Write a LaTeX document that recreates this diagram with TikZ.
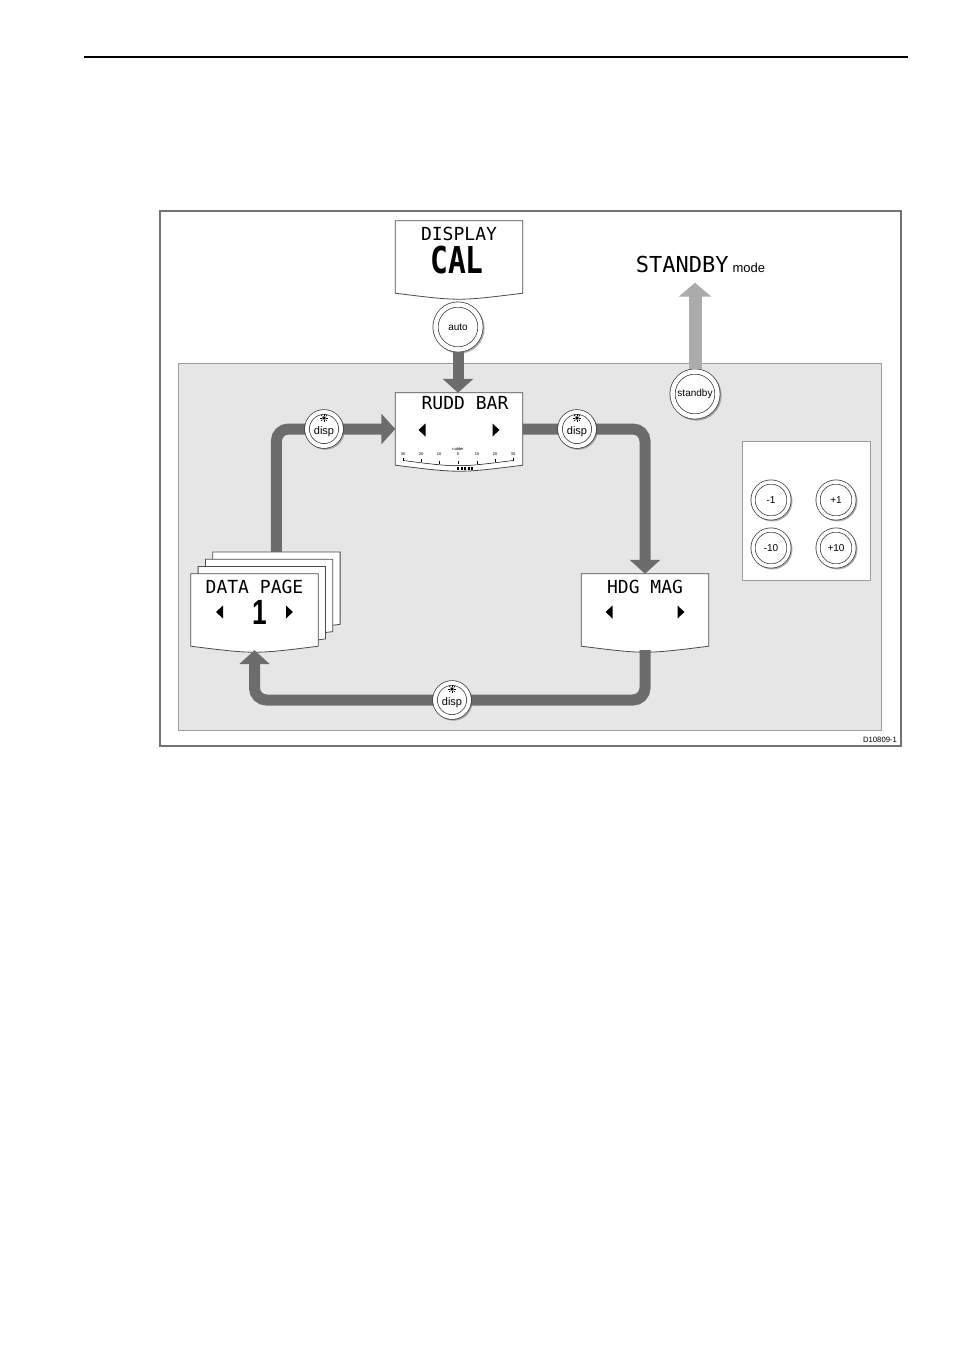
\documentclass[tikz,border=0pt]{standalone}
\usepackage{fontspec}
\setmainfont{Liberation Sans}
\newfontfamily\lcdfont{DejaVu Sans Mono}
\usetikzlibrary{arrows.meta, calc, shadows}
\definecolor{PanelGray}{HTML}{E6E6E6}
\definecolor{PanelEdge}{HTML}{9C9C9C}
\definecolor{FrameGray}{HTML}{737373}
\definecolor{FlowGray}{HTML}{6C6C6C}
\definecolor{LightFlow}{HTML}{ABABAB}
\definecolor{ScreenEdge}{HTML}{4A4A4A}
\tikzset{
  panel/.style={draw=PanelEdge, fill=PanelGray, line width=0.6pt},
  keypad/.style={draw=PanelEdge, fill=white, line width=0.6pt, minimum width=128pt, minimum height=139pt, inner sep=0pt},
  lcdframe/.style={minimum width=127pt, minimum height=72pt, inner sep=0pt},
  screenline/.style={draw=ScreenEdge, line width=0.8pt, fill=white},
  lcdtext/.style={font=\lcdfont\fontsize{18}{18}\selectfont, text height=13pt, text depth=0pt, inner sep=0pt},
  lcdbig/.style={font=\lcdfont\bfseries\fontsize{37}{37}\selectfont, text height=27pt, text depth=0pt, inner sep=0pt},
  pagenum/.style={font=\bfseries\fontsize{35}{35}\selectfont, text height=25pt, text depth=0pt, inner sep=0pt},
  scalenum/.style={font=\fontsize{4}{4}\selectfont, inner sep=0pt},
  knobbase/.style={circle, draw=black!80, line width=0.7pt, double=white, fill=white, inner sep=0pt},
  dispknob/.style={knobbase, minimum size=34pt, double distance=4pt, font=\fontsize{11}{11}\selectfont, text height=10pt, text depth=0pt,
    drop shadow={shadow xshift=1.2pt, shadow yshift=-1.2pt, shadow scale=1.14, fill=black!60}},
  bigknob/.style={knobbase, minimum size=45pt, double distance=4.5pt, outer sep=2.5pt, font=\fontsize{10}{10}\selectfont,
    drop shadow={shadow xshift=1.3pt, shadow yshift=-1.3pt, shadow scale=1.12, fill=black!60}},
  keyknob/.style={knobbase, minimum size=36pt, double distance=3.5pt, font=\fontsize{10}{10}\selectfont,
    drop shadow={shadow xshift=1.2pt, shadow yshift=-1.2pt, shadow scale=1.12, fill=black!60}},
  flow/.style={draw=FlowGray, line width=11pt, -{Triangle[width=30pt, length=14pt]}},
  loopflow/.style={flow, rounded corners=12pt},
  upflow/.style={draw=LightFlow, line width=13pt, -{Triangle[width=32pt, length=14pt]}}
}
% screen with a bowed lower edge
\newcommand{\lcdbox}[2]{%
  \node[lcdframe] (#1) at (#2) {};
  \draw[screenline] (#1.north west) -- (#1.north east) -- (#1.south east)
    .. controls ($(#1.south)+(0,8)$) .. (#1.south west) -- cycle;}
% left and right arrow marks on a screen
\newcommand{\lcdmarks}[3]{%
  \fill ($(#1.center)+(-#2,#3)$) ++(-3.5,0) -- ++(7,-6.5) -- ++(0,13) -- cycle;
  \fill ($(#1.center)+(#2,#3)$) ++(3.5,0) -- ++(-7,-6.5) -- ++(0,13) -- cycle;}
% little sun over the disp key
\newcommand{\sunmark}[1]{%
  \fill ($(#1.center)+(0,-11)$) circle (1.8pt);
  \foreach \a in {0,45,...,315}
    \draw[line width=0.7pt] ($(#1.center)+(0,-11)$) ++(\a:2.4pt) -- ++(\a:1.6pt);}

\begin{document}
\begin{tikzpicture}[x=1pt, y=-1pt]
\useasboundingbox (0,0) rectangle (954,1351);
% page rule and figure frame
\draw[line width=1.6pt] (84,57) -- (908,57);
\draw[FrameGray, line width=1.5pt] (160,211) rectangle (901,746);
\draw[panel] (178,363) rectangle (881,730);
\node[keypad] (keypanel) at (806,510.5) {};

% screens
\lcdbox{calscreen}{459,257}
\lcdbox{ruddscreen}{459,429}
\lcdbox{hdgscreen}{645,610}
\foreach \k/\off in {3/21.9, 2/14.6, 1/7.3} {\lcdbox{page\k}{254.5+\off,610-\off}}
\lcdbox{datascreen}{254.5,610}

\node[lcdtext] (caltitle) at ($(calscreen.north)+(0,13)$) {DISPLAY};
\node[lcdbig] (calvalue) at ($(calscreen.center)+(-2,2.5)$) {\scalebox{0.8}[1]{CAL}};
\node[lcdtext] (ruddtitle) at ($(ruddscreen.north)+(6,10.5)$) {RUDD BAR};
\node[lcdtext] (hdgtitle) at ($(hdgscreen.north)+(0,13)$) {HDG MAG};
\node[lcdtext] (datatitle) at ($(datascreen.north)+(0,13)$) {DATA PAGE};
\node[pagenum] (datanum) at ($(datascreen.center)+(5,2)$) {\scalebox{0.75}[1]{1}};
\lcdmarks{ruddscreen}{37}{1}
\lcdmarks{hdgscreen}{36}{2}
\lcdmarks{datascreen}{35}{2}

% rudder scale
\draw[line width=0.5pt] (403,460.5) .. controls (458,467.5) .. (513,460.5);
\foreach \xx/\yy in {403/460.5, 421/462.1, 439/463.6, 458/464, 477/463.6, 495/462.1, 513/460.5}
  \draw[line width=0.4pt] (\xx,\yy) -- ++(0,-3);
\foreach \xx/\nn in {403/30, 421/20, 439/10, 458/0, 477/10, 495/20, 513/30}
  \node[scalenum] (scale\xx) at (\xx,454) {\nn};
\node[scalenum] (ruddword) at (458,449) {rudder};
\foreach \i in {0,...,4} \fill (457+\i*3.6,466.5) rectangle ++(2,3);

% mode labels and keys
\node[inner sep=0pt, text height=16pt, text depth=0pt] (standbylabel) at (700.5,264.5)
  {{\lcdfont\fontsize{22}{22}\selectfont STANDBY}\hspace{4pt}{\fontsize{13}{13}\selectfont mode}};
\node[bigknob] (autobtn) at (458,327) {auto};
\node[bigknob] (standbybtn) at (695,394) {standby};
\coordinate (standbytip) at ($(standbybtn.north |- standbylabel.south)+(0,10)$);
\coordinate (displeftspot) at (324,429);
\coordinate (disprightspot) at (577,429);
\coordinate (loopbase) at (452,700);

% connectors
\draw[flow] (autobtn.south) -- (autobtn.south |- ruddscreen.north);
\draw[upflow] (standbybtn.north) -- (standbytip);
\draw[loopflow] (page3.north) |- (ruddscreen.west);
\draw[loopflow] (ruddscreen.east) -| (hdgscreen.north);
\draw[loopflow] ([yshift=-4pt]hdgscreen.south) |- (loopbase) -| ([yshift=-4pt]datascreen.south);

% disp keys on the loop
\node[dispknob] (displeft) at (displeftspot) {disp};
\node[dispknob] (dispright) at (disprightspot) {disp};
\node[dispknob] (dispbottom) at (loopbase) {disp};
\sunmark{displeft}
\sunmark{dispright}
\sunmark{dispbottom}

% step keys
\node[keyknob] (minusone) at (771,500) {-1};
\node[keyknob] (plusone) at (836,500) {+1};
\node[keyknob] (minusten) at (771,548) {-10};
\node[keyknob] (plusten) at (836,548) {+10};

\node[font=\fontsize{7.7}{8}\selectfont, inner sep=0pt] (figref) at (880,740) {D10809-1};
\end{tikzpicture}
\end{document}
